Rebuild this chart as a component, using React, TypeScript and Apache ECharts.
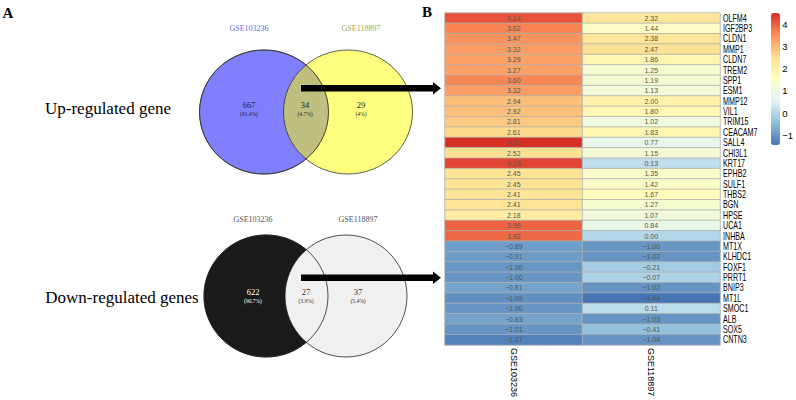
import React, { useEffect, useRef } from "react";
import * as echarts from "echarts";

const datasets = ["GSE103236", "GSE118897"];
const genes = [
  "OLFM4", "IGF2BP3", "CLDN1", "MMP1", "CLDN7", "TREM2", "SPP1", "ESM1", "MMP12", "VIL1",
  "TRIM15", "CEACAM7", "SALL4", "CHI3L1", "KRT17", "EPHB2", "SULF1", "THBS2", "BGN", "HPSE",
  "UCA1", "INHBA", "MT1X", "KLHDC1", "FOXF1", "PRRT1", "BNIP3", "MT1L", "SMOC1", "ALB", "SOX5", "CNTN3",
];
const gse103236 = [
  4.14, 3.62, 3.47, 3.32, 3.29, 3.27, 3.6, 3.32, 2.94, 2.92, 2.81, 2.61, 4.52, 2.52, 4.28, 2.45,
  2.45, 2.41, 2.41, 2.18, 3.96, 3.92, -0.89, -0.91, -1.0, -1.0, -0.81, -1.09, -1.0, -0.83, -1.01, -1.27,
];
const gse118897 = [
  2.32, 1.44, 2.38, 2.47, 1.86, 1.25, 1.19, 1.13, 2.0, 1.8, 1.02, 1.83, 0.77, 1.15, 0.13, 1.35,
  1.42, 1.67, 1.27, 1.07, 0.84, 0.0, -1.0, -1.02, -0.21, -0.07, -1.02, -1.44, 0.11, -1.03, -0.41, -1.04,
];
const legendTicks = [-1, 0, 1, 2, 3, 4];
const palette = ["#4575B4", "#91BFDB", "#E0F3F8", "#FFFFBF", "#FEE090", "#FC8D59", "#D73027"];

const upCounts = ["667", "34", "29"];
const upPct = ["(91.4%)", "(4.7%)", "(4%)"];
const downCounts = ["622", "27", "37"];
const downPct = ["(90.7%)", "(3.9%)", "(5.4%)"];

const fmt = (v: number, d: number) => (v < 0 ? "\u2212" + Math.abs(v).toFixed(d) : v.toFixed(d));

const SERIF = "'Liberation Serif', 'Times New Roman', serif";
const SANS = "'Liberation Sans', Arial, Helvetica, sans-serif";

export default function App() {
  const ref = useRef<HTMLDivElement>(null);
  useEffect(() => {
    if (!ref.current) return;
    const chart = echarts.init(ref.current, null, { renderer: "svg" });
    const all = [...gse103236, ...gse118897];
    const vmin = Math.min(...all);
    const vmax = Math.max(...all);
    const data: [number, number, number][] = [];
    genes.forEach((_, i) => {
      data.push([0, i, gse103236[i]]);
      data.push([1, i, gse118897[i]]);
    });

    const txt = (x: number, y: number, t: string, size: number, fill: string, extra: any = {}) => ({
      type: "text",
      x,
      y,
      style: { text: t, fontSize: size, fill, fontFamily: SERIF, align: "center", verticalAlign: "middle", ...extra },
    });

    const graphic: any[] = [
      txt(8, 13, "A", 15, "#000", { fontWeight: "bold" }),
      txt(427, 12, "B", 15, "#000", { fontWeight: "bold" }),
      // Up-regulated Venn
      { type: "ellipse", shape: { cx: 264, cy: 112, rx: 64.5, ry: 62 }, style: { fill: "rgba(0,0,255,0.5)", stroke: "#333", lineWidth: 0.8 } },
      { type: "ellipse", shape: { cx: 348, cy: 112, rx: 64.5, ry: 62 }, style: { fill: "rgba(255,255,0,0.5)", stroke: "#333", lineWidth: 0.8 } },
      { type: "ellipse", shape: { cx: 264, cy: 112, rx: 64.5, ry: 62 }, style: { fill: "none", stroke: "#333", lineWidth: 0.8 } },
      txt(249, 28, datasets[0], 8, "#6464f0"),
      txt(361, 28, datasets[1], 8, "#a4a44c"),
      txt(249, 105, upCounts[0], 8.5, "#222"),
      txt(249, 113.5, upPct[0], 5.5, "#222"),
      txt(305, 105, upCounts[1], 8.5, "#222"),
      txt(305, 113.5, upPct[1], 5.5, "#222"),
      txt(361, 105, upCounts[2], 8.5, "#222"),
      txt(361, 113.5, upPct[2], 5.5, "#222"),
      txt(108, 108, "Up-regulated gene", 17, "#000"),
      { type: "rect", shape: { x: 301, y: 85, width: 134, height: 6.5 }, style: { fill: "#000" } },
      { type: "polygon", shape: { points: [[433, 82], [441, 88.2], [433, 94.5]] }, style: { fill: "#000" } },
      // Down-regulated Venn
      { type: "ellipse", shape: { cx: 266, cy: 296, rx: 62, ry: 61 }, style: { fill: "#1a1a1a", stroke: "#222", lineWidth: 0.8 } },
      { type: "ellipse", shape: { cx: 346, cy: 296, rx: 61, ry: 61 }, style: { fill: "#f0f0f0", stroke: "#222", lineWidth: 0.8 } },
      { type: "ellipse", shape: { cx: 266, cy: 296, rx: 62, ry: 61 }, style: { fill: "none", stroke: "#222", lineWidth: 0.8 } },
      txt(253, 219, datasets[0], 8, "#555"),
      txt(358, 219, datasets[1], 8, "#555"),
      txt(253, 292, downCounts[0], 8.5, "#fff"),
      txt(253, 300.5, downPct[0], 5.5, "#fff"),
      txt(306, 292, downCounts[1], 8.5, "#333"),
      txt(306, 300.5, downPct[1], 5.5, "#333"),
      txt(358, 292, downCounts[2], 8.5, "#333"),
      txt(358, 300.5, downPct[2], 5.5, "#333"),
      txt(122, 297, "Down-regulated genes", 17, "#000"),
      { type: "rect", shape: { x: 301, y: 274.5, width: 134, height: 6.5 }, style: { fill: "#000" } },
      { type: "polygon", shape: { points: [[433, 271.5], [441, 277.7], [433, 284]] }, style: { fill: "#000" } },
    ];

    chart.setOption({
      animation: false,
      backgroundColor: "#fff",
      grid: [
        { left: 445, top: 13, width: 275, height: 334 },
        { left: 771, top: 13, width: 9, height: 132 },
      ],
      xAxis: [
        {
          type: "category",
          gridIndex: 0,
          data: datasets,
          position: "bottom",
          axisLine: { show: false },
          axisTick: { show: false },
          axisLabel: { rotate: -90, fontSize: 9, color: "#000", margin: 3, fontFamily: SANS },
          splitLine: { show: false },
        },
        { type: "value", gridIndex: 1, show: false, min: 0, max: 1 },
      ],
      yAxis: [
        {
          type: "category",
          gridIndex: 0,
          data: genes,
          inverse: true,
          position: "right",
          axisLine: { show: false },
          axisTick: { show: false },
          axisLabel: { show: false },
          splitLine: { show: false },
        },
        {
          type: "value",
          gridIndex: 1,
          min: vmin,
          max: vmax,
          position: "right",
          axisLine: { show: false },
          axisTick: { show: false },
          splitLine: { show: false },
          axisLabel: {
            customValues: legendTicks,
            fontSize: 9.5,
            color: "#000",
            margin: 5,
            fontFamily: SANS,
            formatter: (v: number) => fmt(v, 0),
          },
        },
      ],
      visualMap: {
        type: "continuous",
        seriesIndex: 0,
        min: vmin,
        max: vmax,
        dimension: 2,
        calculable: false,
        text: ["", ""],
        showLabel: false,
        itemWidth: 9,
        itemHeight: 132,
        left: 771,
        top: 13,
        padding: 0,
        inRange: { color: palette },
      },
      series: [
        {
          type: "heatmap",
          xAxisIndex: 0,
          yAxisIndex: 0,
          data,
          itemStyle: { borderColor: "#b0b0b0", borderWidth: 0.8 },
          label: {
            show: true,
            fontSize: 7,
            color: "#555",
            fontFamily: SANS,
            formatter: (p: any) => fmt(p.value[2], 2),
          },
          emphasis: { disabled: true },
        },
      ],
      graphic,
    });

    // Row labels: placed by the y axis scale, drawn condensed like the reference
    const gridRight = 720;
    const rowLabels = genes.map((g) => {
      const y = chart.convertToPixel({ yAxisIndex: 0 }, g) as number;
      return {
        type: "text",
        x: gridRight + 3,
        y,
        scaleX: 0.68,
        style: { text: g, fontSize: 10.5, fill: "#000", fontFamily: SANS, align: "left", verticalAlign: "middle" },
      };
    });
    chart.setOption({ graphic: [...graphic, ...rowLabels] });
    return () => chart.dispose();
  }, []);
  return <div ref={ref} style={{ position: "fixed", left: 0, top: 0, width: 796, height: 400, background: "#fff" }} />;
}
